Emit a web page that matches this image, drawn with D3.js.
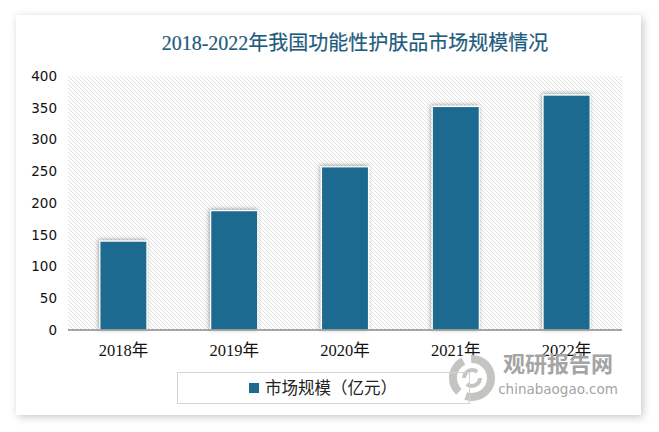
<!DOCTYPE html>
<html><head><meta charset="utf-8">
<script src="https://cdn.jsdelivr.net/npm/d3@7"></script>
<style>
html,body{margin:0;padding:0;background:#fff;}
svg{display:block;}
</style></head>
<body>
<svg id="c" width="659" height="432"></svg>
<script>
const title = "2018-2022年我国功能性护肤品市场规模情况";
const categories = ["2018年","2019年","2020年","2021年","2022年"];
const values = [140, 188, 257, 352, 370];
const yTicks = [0,50,100,150,200,250,300,350,400];
const seriesName = "市场规模（亿元）";

(function(){
const svg = d3.select("#c");
const defs = svg.append("defs");

const cardF = defs.append("filter").attr("id","cardShadow").attr("x","-10%").attr("y","-10%").attr("width","120%").attr("height","120%");
cardF.append("feDropShadow").attr("dx",2).attr("dy",2).attr("stdDeviation",4).attr("flood-color","#000").attr("flood-opacity",0.22);

const barF = defs.append("filter").attr("id","barShadow").attr("x","-30%").attr("y","-10%").attr("width","160%").attr("height","130%");
barF.append("feDropShadow").attr("dx",-1).attr("dy",-1).attr("stdDeviation",2.2).attr("flood-color","#000").attr("flood-opacity",0.35);

const pat = defs.append("pattern").attr("id","hatch").attr("patternUnits","userSpaceOnUse").attr("width",4).attr("height",4);
pat.append("rect").attr("width",4).attr("height",4).attr("fill","#fff");
pat.append("path").attr("d","M0,0L4,4M-1,3L1,5M3,-1L5,1").attr("stroke","#dcdcdc").attr("stroke-width",0.9);

// card
svg.append("rect").attr("x",16).attr("y",15).attr("width",625).attr("height",400).attr("fill","#fff").attr("filter","url(#cardShadow)");

// title
svg.append("text").attr("x",355).attr("y",50).attr("text-anchor","middle")
  .attr("font-family","'Liberation Serif','Noto Sans CJK SC',serif").attr("font-size",20)
  .attr("fill","#1e5b7c").attr("stroke","#1e5b7c").attr("stroke-width",0.2).text(title);

const pl=68, pr=622, pt=76, pb=330;
const x = d3.scaleBand().domain(categories).range([pl,pr]).paddingInner(0.575).paddingOuter(0.2875);
const y = d3.scaleLinear().domain([0,400]).range([pb,pt]);

svg.append("rect").attr("x",pl).attr("y",pt).attr("width",pr-pl).attr("height",pb-pt).attr("fill","url(#hatch)");

// y axis labels
const ya = svg.append("g").attr("transform",`translate(${pl},0)`)
  .call(d3.axisLeft(y).tickValues(yTicks).tickSize(0).tickPadding(11));
ya.select(".domain").remove();
ya.selectAll("text").attr("font-family","'DejaVu Sans',sans-serif").attr("font-size",13.5).attr("fill","#111");

// bars
svg.append("g").selectAll("rect").data(values).join("rect")
  .attr("x",(d,i)=>x(categories[i])).attr("y",d=>y(d))
  .attr("width",x.bandwidth()).attr("height",d=>pb-y(d))
  .attr("fill","#1c6b8f").attr("stroke","#fff").attr("stroke-width",1.2)
  .attr("filter","url(#barShadow)");

// x axis
const xa = svg.append("g").attr("transform",`translate(0,${pb})`)
  .call(d3.axisBottom(x).tickSize(0).tickPadding(14));
xa.select(".domain").attr("stroke","#8a8a8a").attr("stroke-width",1.5).attr("d",`M${pl},0H${pr}`);
xa.selectAll("text").attr("font-family","'Liberation Serif','Noto Sans CJK SC',serif").attr("font-size",16.5).attr("fill","#111");

// watermark
const wm = svg.append("g");
wm.append("circle").attr("cx",472).attr("cy",378).attr("r",19).attr("fill","none").attr("stroke","#c4c4c0").attr("stroke-width",8).attr("stroke-dasharray","36 8");
wm.append("circle").attr("cx",472).attr("cy",378).attr("r",8).attr("fill","none").attr("stroke","#c4c4c0").attr("stroke-width",4).attr("stroke-dasharray","18 7");
wm.append("text").attr("x",558).attr("y",372).attr("text-anchor","middle").attr("font-family","'Noto Sans CJK SC',sans-serif").attr("font-weight","bold").attr("font-size",22).attr("fill","#a4a4a4").text("观研报告网");
wm.append("text").attr("x",558).attr("y",394).attr("text-anchor","middle").attr("font-family","'DejaVu Sans',sans-serif").attr("font-size",13.5).attr("fill","#a4a4a4").text("chinabaogao.com");

// legend
const lg = svg.append("g");
lg.append("rect").attr("x",177.5).attr("y",372.5).attr("width",292).attr("height",31).attr("fill","none").attr("stroke","#d4d4d4").attr("stroke-width",1);
lg.append("rect").attr("x",249).attr("y",383).attr("width",10).attr("height",10).attr("fill","#1c6b8f");
lg.append("text").attr("x",265).attr("y",394).attr("font-family","'Noto Sans CJK SC',sans-serif").attr("font-size",16.5).attr("fill","#222").text(seriesName);
})();
</script>
</body></html>
